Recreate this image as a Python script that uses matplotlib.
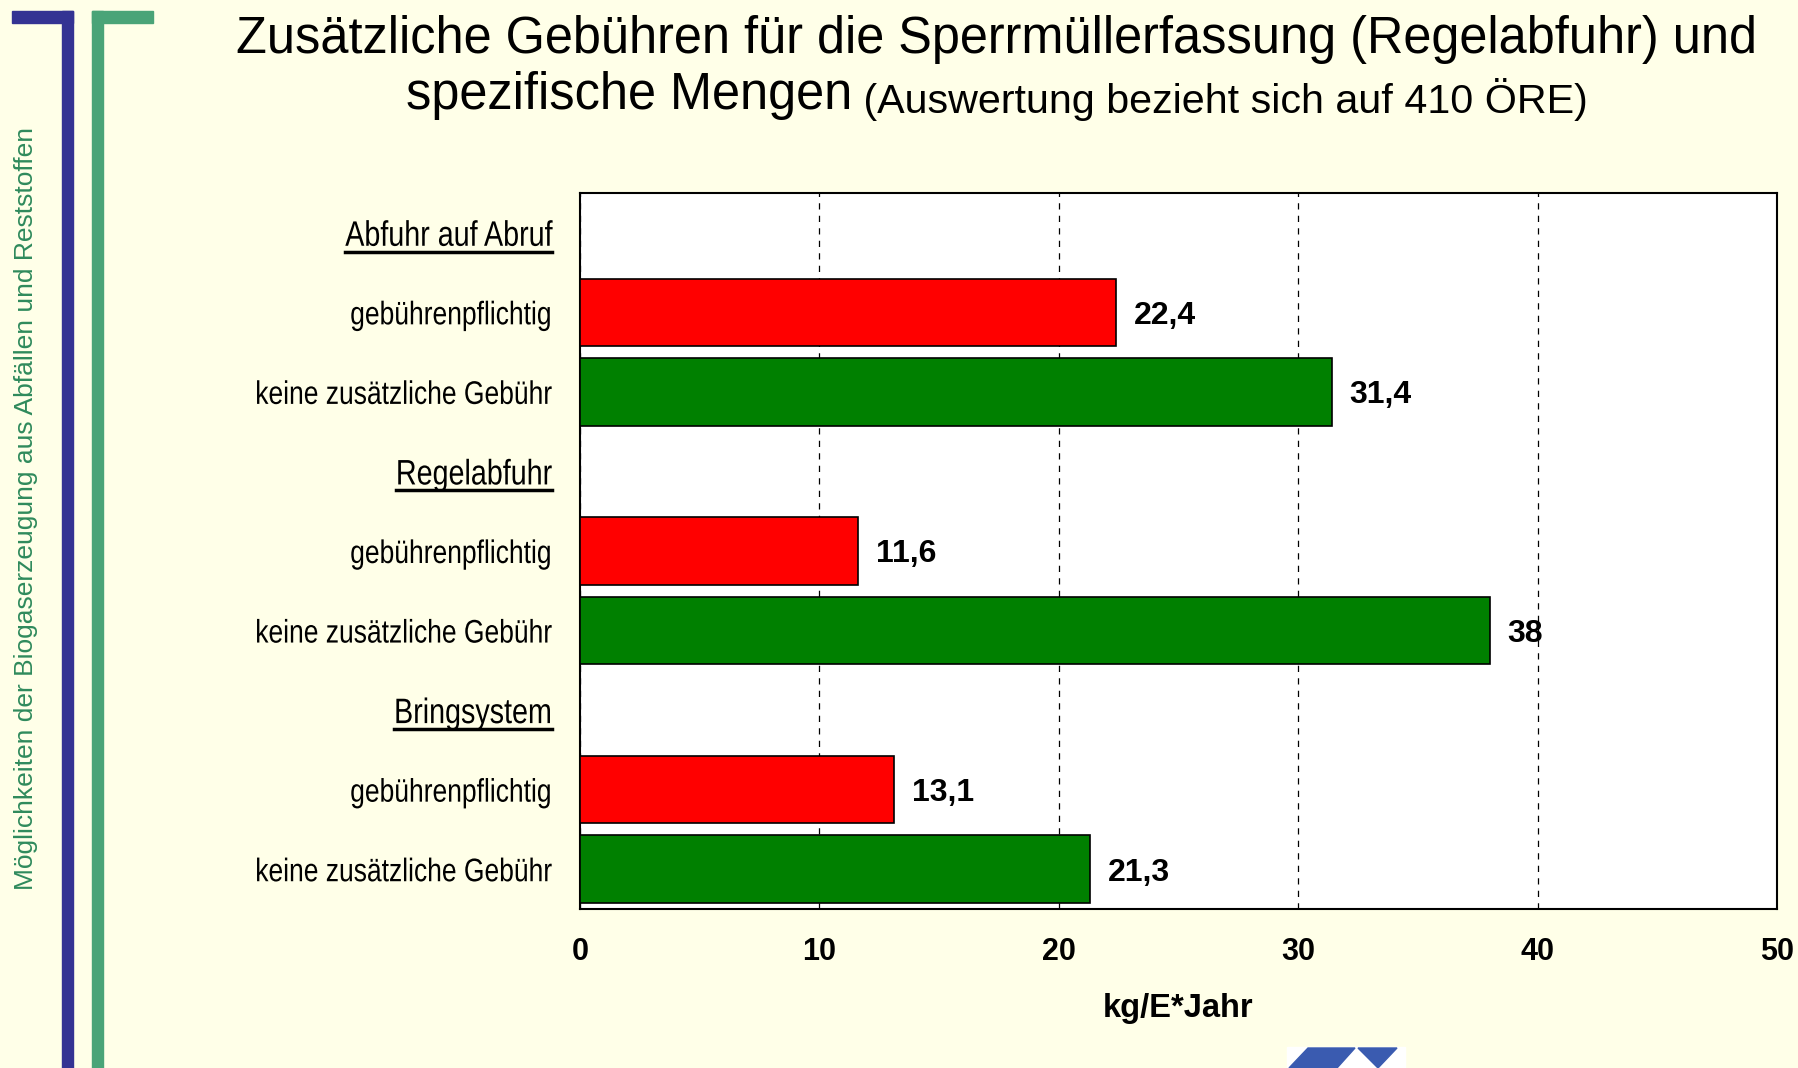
import matplotlib
matplotlib.use("Agg")
import matplotlib.pyplot as plt
from matplotlib.patches import Rectangle, Polygon
from matplotlib.lines import Line2D
from matplotlib.patheffects import AbstractPathEffect
from matplotlib.transforms import Affine2D

categories = ["Abfuhr auf Abruf", "gebührenpflichtig", "keine zusätzliche Gebühr",
              "Regelabfuhr", "gebührenpflichtig", "keine zusätzliche Gebühr",
              "Bringsystem", "gebührenpflichtig", "keine zusätzliche Gebühr"]
is_header = [True, False, False, True, False, False, True, False, False]
values = [None, 22.4, 31.4, None, 11.6, 38.0, None, 13.1, 21.3]
value_labels = [None, "22,4", "31,4", None, "11,6", "38", None, "13,1", "21,3"]
bar_colors = [None, "#FF0000", "#008000", None, "#FF0000", "#008000", None, "#FF0000", "#008000"]
xticks = [0, 10, 20, 30, 40, 50]


class Condense(AbstractPathEffect):
    """Horizontally compress text about an anchor (left/center/right of its extent)."""
    def __init__(self, sx=0.85, anchor="right"):
        super().__init__()
        self.sx = sx
        self.anchor = anchor

    def draw_path(self, renderer, gc, tpath, affine, rgbFace=None):
        ext = tpath.transformed(affine).get_extents()
        if self.anchor == "right":
            x0 = ext.x1
        elif self.anchor == "left":
            x0 = ext.x0
        else:
            x0 = 0.5 * (ext.x0 + ext.x1)
        tr = affine + Affine2D().translate(-x0, 0).scale(self.sx, 1).translate(x0, 0)
        renderer.draw_path(gc, tpath, tr, rgbFace)


BG = "#FFFFE8"
W, H = 1798, 1068
fig = plt.figure(figsize=(W / 100, H / 100), dpi=100, facecolor=BG)

sans = ["Liberation Sans", "DejaVu Sans"]
SX = 0.81


def fx(px):
    return px / W


def fy(py):
    return 1 - py / H


# decorations
fig.patches.append(Rectangle((fx(12), fy(23)), fx(73) - fx(12), fy(11) - fy(23),
                             transform=fig.transFigure, color="#343393", zorder=1))
fig.patches.append(Rectangle((fx(62), 0), fx(73) - fx(62), fy(11), transform=fig.transFigure,
                             color="#343393", zorder=1))
fig.patches.append(Rectangle((fx(92), fy(23)), fx(153) - fx(92), fy(11) - fy(23),
                             transform=fig.transFigure, color="#4AA478", zorder=1))
fig.patches.append(Rectangle((fx(92), 0), fx(103) - fx(92), fy(11), transform=fig.transFigure,
                             color="#4AA478", zorder=1))

fig.text(fx(26), fy(509), "Möglichkeiten der Biogaserzeugung aus Abfällen und Reststoffen",
         rotation=90, ha="center", va="center", color="#2F8A5C", fontsize=19,
         family=sans)

# logo
fig.patches.append(Rectangle((fx(1287), 0), fx(1405) - fx(1287), fy(1047),
                             transform=fig.transFigure, color="white", zorder=1))
fig.patches.append(Polygon([(fx(1289), fy(1068)), (fx(1308), fy(1048)), (fx(1355), fy(1048)),
                            (fx(1337), fy(1068))], closed=True, transform=fig.transFigure,
                           color="#3A5BB0", zorder=2))
fig.patches.append(Polygon([(fx(1358), fy(1048)), (fx(1397), fy(1048)), (fx(1378), fy(1068))],
                           closed=True, transform=fig.transFigure, color="#3A5BB0", zorder=2))

# title
fig.text(fx(996), fy(39), "Zusätzliche Gebühren für die Sperrmüllerfassung (Regelabfuhr) und",
         ha="center", va="center", fontsize=36.4, family=sans)
t2a = fig.text(fx(996), fy(96), "spezifische Mengen", ha="left", va="center", fontsize=36.4,
               family=sans)
t2b = fig.text(fx(996), fy(99), " (Auswertung bezieht sich auf 410 ÖRE)", ha="left",
               va="center", fontsize=29.7, family=sans)

ax = fig.add_axes([580 / W, 1 - 909 / H, (1777 - 580) / W, (909 - 193) / H])
ax.set_facecolor("white")
n = len(categories)
ypos = list(range(n))
for i in range(n):
    if values[i] is not None:
        ax.barh(i, values[i], height=0.85, color=bar_colors[i], edgecolor="black",
                linewidth=1.2, zorder=3)
        ax.annotate(value_labels[i], (values[i], i), xytext=(13, -2.5), textcoords="offset points",
                    ha="left", va="center", fontsize=23, fontweight="bold", family=sans)

ax.set_ylim(n - 0.5, -0.5)
ax.set_xlim(0, 50)
ax.set_xticks(xticks)
ax.set_xticklabels([str(t) for t in xticks], fontsize=22, fontweight="bold", family=sans)
ax.set_yticks(ypos)
ax.set_yticklabels(categories, fontsize=23.5, family=sans)
for lbl, hdr in zip(ax.get_yticklabels(), is_header):
    lbl.set_path_effects([Condense(SX, "right")])
    if hdr:
        lbl.set_fontsize(25.5)
ax.tick_params(axis="y", length=0, pad=20)
ax.tick_params(axis="x", length=0, pad=20.5)
ax.set_xlabel("kg/E*Jahr", fontsize=23.5, fontweight="bold", family=sans, va="center")
ax.xaxis.set_label_coords(0.5, -(1008 - 909) / (909 - 193))
ax.grid(axis="x", linestyle=(0, (5, 5)), color="black", linewidth=0.9, zorder=0)
for s in ax.spines.values():
    s.set_linewidth(1.5)
    s.set_color("black")

# centre second title line and underline headers
fig.canvas.draw()
renderer = fig.canvas.get_renderer()
wa = t2a.get_window_extent(renderer).width
wb = t2b.get_window_extent(renderer).width
start = 997 - (wa + wb) / 2
t2a.set_x(fx(start))
t2b.set_x(fx(start + wa))

for lbl, hdr in zip(ax.get_yticklabels(), is_header):
    if hdr:
        bb = lbl.get_window_extent(renderer)
        x1 = bb.x1
        x0 = x1 - (bb.x1 - bb.x0) * SX
        y = bb.y0 + 1
        fig.add_artist(Line2D([x0 / fig.bbox.width, x1 / fig.bbox.width],
                              [y / fig.bbox.height, y / fig.bbox.height],
                              transform=fig.transFigure, color="black", linewidth=2.5))

fig.savefig("out.png", dpi=100, facecolor=BG)
